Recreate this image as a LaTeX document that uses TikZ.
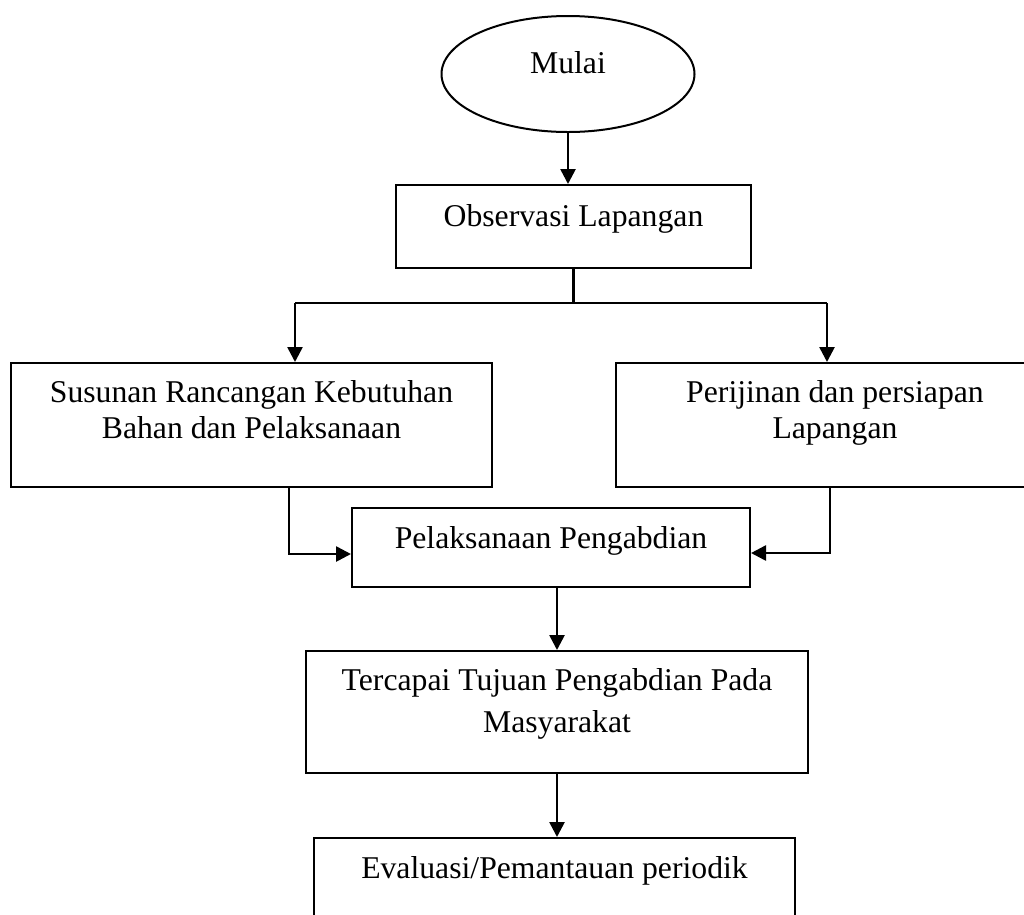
\documentclass[tikz,border=0pt]{standalone}
\usepackage{fontspec}
\setmainfont{Liberation Serif}
\usetikzlibrary{arrows.meta,shapes.geometric}
\begin{document}
\begin{tikzpicture}[x=1pt,y=-1pt,
    box/.style={draw,line width=2pt,inner sep=0pt,align=center,font=\fontsize{31.7}{36}\selectfont},
    link/.style={line width=2.2pt},
    arr/.style={line width=2.6pt,-{Triangle[length=15pt,width=15pt]}}]
    \useasboundingbox (0,0) rectangle (1024,914);

    \node[box,ellipse,minimum width=253pt,minimum height=116pt,text height=0pt,text depth=2pt] (mulai) at (568,74) {Mulai};
    \node[box,minimum width=355pt,minimum height=83pt,text height=41pt,text depth=42pt] (obs) at (573.5,226.5) {Observasi Lapangan};

    \node[box,minimum width=481pt,minimum height=124pt,text height=75pt,text depth=49pt] (sus) at (251.5,425) {Susunan Rancangan Kebutuhan\\Bahan dan Pelaksanaan};
    \node[box,minimum width=438pt,minimum height=124pt,text height=75pt,text depth=49pt] (per) at (835,425) {Perijinan dan persiapan\\Lapangan};

    \node[box,minimum width=398pt,minimum height=79pt,text height=40pt,text depth=39pt] (pel) at (551,547.5) {Pelaksanaan Pengabdian};
    \node[box,minimum width=502pt,minimum height=122pt,text height=81pt,text depth=41pt] (tuj) at (557,712) {Tercapai Tujuan Pengabdian Pada\\[6pt]Masyarakat};
    \node[box,minimum width=481pt,minimum height=112pt,text height=40pt,text depth=72pt] (eva) at (554.5,894) {Evaluasi/Pemantauan periodik};

    \coordinate (fl) at (295,303);
    \coordinate (fr) at (827,303);
    \coordinate (sl) at (289,554);
    \coordinate (sr) at (830,553);

    \draw[arr] (mulai.south) -- (mulai.south |- obs.north);
    \draw[link] (obs.south) -- (obs.south |- fl);
    \draw[link] (fl) -- (fr);
    \draw[arr] (fl) -- (fl |- sus.north);
    \draw[arr] (fr) -- (fr |- per.north);
    \draw[arr] (sl |- sus.south) -- (sl) -- (sl -| pel.west);
    \draw[arr] (sr |- per.south) -- (sr) -- (sr -| pel.east);
    \draw[arr] (pel.south -| tuj.north) -- (tuj.north);
    \draw[arr] (tuj.south) -- (tuj.south |- eva.north);
\end{tikzpicture}
\end{document}
